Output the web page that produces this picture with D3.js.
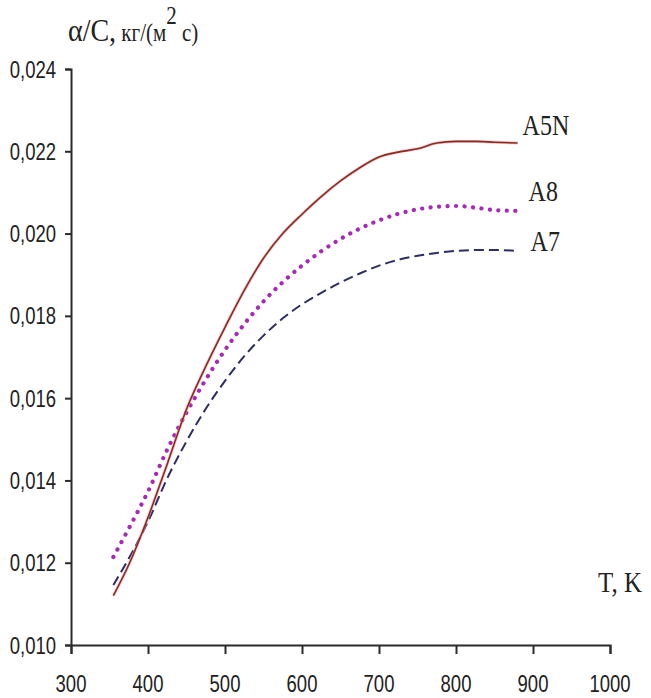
<!DOCTYPE html>
<html>
<head>
<meta charset="utf-8">
<script src="https://cdn.jsdelivr.net/npm/d3@7"></script>
<style>
  html, body { margin: 0; padding: 0; background: #fff; }
  svg { display: block; }
</style>
</head>
<body>
<div id="chart"></div>
<script>
// ---- data ----
const temps = [355, 375, 400, 425, 450, 475, 500, 525, 550, 575, 600, 625, 650, 675, 700, 725, 750, 775, 800, 825, 850, 880];
const a5n = [0.0112, 0.01195, 0.0131, 0.0144, 0.01573, 0.01677, 0.01772, 0.01862, 0.0194, 0.02, 0.02047, 0.0209, 0.02128, 0.0216, 0.02186, 0.02198, 0.02206, 0.0222, 0.02224, 0.02224, 0.02222, 0.0222];
const a8  = [0.01214, 0.01283, 0.01373, 0.01475, 0.01565, 0.01645, 0.01717, 0.0178, 0.01835, 0.01882, 0.01922, 0.01957, 0.01987, 0.02012, 0.02032, 0.02048, 0.02059, 0.02065, 0.02067, 0.02063, 0.02057, 0.02055];
const a7  = [0.01146, 0.0121, 0.013, 0.01405, 0.01495, 0.01574, 0.01642, 0.01702, 0.01752, 0.01794, 0.01828, 0.01856, 0.01881, 0.01903, 0.01922, 0.01936, 0.01946, 0.01953, 0.01958, 0.0196, 0.0196, 0.01958];
const seriesNames = ["A5N", "A8", "A7"];
const xTicks = [300, 400, 500, 600, 700, 800, 900, 1000];
const yTicks = [0.010, 0.012, 0.014, 0.016, 0.018, 0.020, 0.022, 0.024];
const yTickLabels = ["0,010", "0,012", "0,014", "0,016", "0,018", "0,020", "0,022", "0,024"];

const W = 651, H = 698;
const svg = d3.select("#chart").append("svg").attr("width", W).attr("height", H);
svg.append("rect").attr("width", W).attr("height", H).attr("fill", "#fff");

const x = d3.scaleLinear().domain([300, 1000]).range([71, 610]);
const y = d3.scaleLinear().domain([0.010, 0.024]).range([645, 69]);

const axisColor = "#2b2b2b";
const sans = "'Liberation Sans', Arial, sans-serif";
const serif = "'Liberation Serif', 'Times New Roman', serif";

// X axis
const xAxis = svg.append("g").attr("transform", `translate(0,${y(0.010)})`)
  .call(d3.axisBottom(x).tickValues(xTicks).tickSize(9).tickFormat(""));
// Y axis
const yAxis = svg.append("g").attr("transform", `translate(${x(300)},0)`)
  .call(d3.axisLeft(y).tickValues(yTicks).tickSize(6).tickFormat(""));
[xAxis, yAxis].forEach(g => {
  g.select(".domain").attr("stroke", axisColor).attr("stroke-width", 2);
  g.selectAll(".tick line").attr("stroke", axisColor).attr("stroke-width", 2);
});

// tick labels (stretched vertically to match the reference)
svg.append("g").selectAll("text").data(xTicks).join("text")
  .attr("transform", d => `translate(${x(d)},${y(0.010) + 47}) scale(1,1.3)`)
  .attr("text-anchor", "middle")
  .attr("font-family", sans).attr("font-size", 18.5).attr("fill", "#222")
  .text(d => d);

svg.append("g").selectAll("text").data(yTicks).join("text")
  .attr("transform", d => `translate(56,${y(d) + 8.5}) scale(1,1.3)`)
  .attr("text-anchor", "end")
  .attr("font-family", sans).attr("font-size", 18.5).attr("fill", "#222")
  .text((d, i) => yTickLabels[i]);

// Y title
const yt = svg.append("text")
  .attr("transform", "translate(68,41) scale(1,1.15)")
  .attr("font-family", serif).attr("fill", "#222");
yt.append("tspan").attr("font-size", 28).text("α/C,");
yt.append("tspan").attr("font-size", 21).text(" кг/(м");
yt.append("tspan").attr("font-size", 21).attr("dy", -15).text("2");
yt.append("tspan").attr("font-size", 21).attr("dy", 15).text(" с)");

// X title
svg.append("text")
  .attr("transform", "translate(642,592) scale(1,1.15)")
  .attr("text-anchor", "end")
  .attr("font-family", serif).attr("font-size", 25).attr("fill", "#222")
  .text("T, K");

// lines
const line = vals => d3.line().x((d, i) => x(temps[i])).y(d => y(d)).curve(d3.curveMonotoneX)(vals);

svg.append("path").attr("d", line(a7))
  .attr("fill", "none").attr("stroke", "#2c2c66").attr("stroke-width", 2)
  .attr("stroke-dasharray", "10,5");

svg.append("path").attr("d", line(a8))
  .attr("fill", "none").attr("stroke", "#a828b8").attr("stroke-width", 4.2)
  .attr("stroke-linecap", "round").attr("stroke-dasharray", "0.1,8.4");

svg.append("path").attr("d", line(a5n))
  .attr("fill", "none").attr("stroke", "#e8a0a0").attr("stroke-width", 3).attr("opacity", 0.6);
svg.append("path").attr("d", line(a5n))
  .attr("fill", "none").attr("stroke", "#8e2a24").attr("stroke-width", 1.6);

// series labels
const ends = [a5n, a8, a7].map(v => v[v.length - 1]);
const labelDx = [5, 11, 13];
const labelDy = [-8, -10, 0];
svg.append("g").selectAll("text").data(seriesNames).join("text")
  .attr("transform", (d, i) => `translate(${x(880) + labelDx[i]},${y(ends[i]) + labelDy[i]}) scale(1,1.2)`)
  .attr("font-family", serif).attr("font-size", 24).attr("fill", "#222")
  .text(d => d);
</script>
</body>
</html>
